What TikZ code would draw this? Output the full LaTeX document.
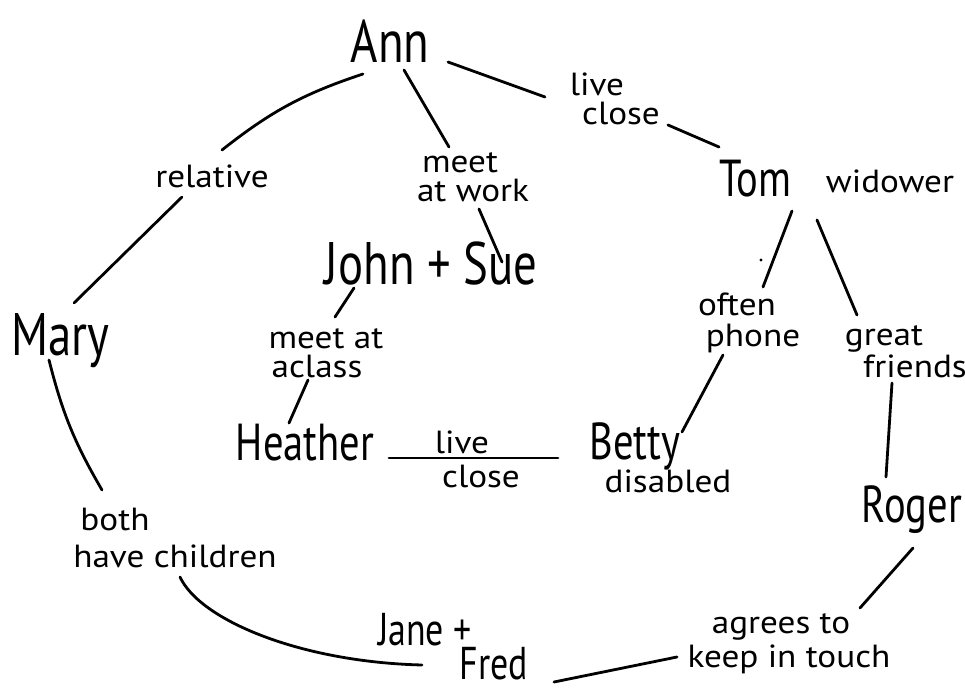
\documentclass[tikz,border=0pt]{standalone}
\usepackage{fontspec}
\setmainfont{PT Sans}
\newfontfamily\namefont[FakeStretch=0.78]{PT Sans}
\newfontfamily\labfont[FakeStretch=1.1]{PT Sans}
\usetikzlibrary{calc}
\begin{document}
\begin{tikzpicture}[x=0.5pt,y=-0.5pt,
  conn/.style={line width=1.4pt,line cap=round},
  bigname/.style={anchor=base,inner sep=0pt,font=\namefont\fontsize{30}{32}\selectfont},
  midname/.style={anchor=base,inner sep=0pt,font=\namefont\fontsize{26}{28}\selectfont},
  smallname/.style={anchor=base,inner sep=0pt,font=\namefont\fontsize{23}{25}\selectfont},
  lab/.style={anchor=base,inner sep=0pt,font=\labfont\fontsize{16}{18}\selectfont}]
\useasboundingbox (0,0) rectangle (965,690);
\fill[white] (0,0) rectangle (965,690);
% names
\node[bigname] (ann) at (390,63) {Ann};
\node[bigname] (mary) at (60,355) {Mary};
\node[bigname] (johnsue) at (431,285) {John + Sue};
\node[midname] (tom) at (755,197) {Tom};
\node[midname] (heather) at (305,460) {Heather};
\node[midname] (betty) at (635,459) {Betty};
\node[midname] (roger) at (912,522) {Roger};
\node[smallname] (jane) at (425,645) {Jane +};
\node[smallname] (fred) at (494,679) {Fred};
% labels
\node[lab] (relative) at (212,188) {relative};
\node[lab] (live) at (597,96) {live};
\node[lab] (close) at (621,125) {close};
\node[lab] (widower) at (890,193) {widower};
\node[lab] (meet) at (460,173) {meet};
\node[lab] (atwork) at (473,202) {at work};
\node[lab] (meetat) at (326,348) {meet at};
\node[lab] (aclass) at (317,377) {aclass};
\node[lab] (often) at (737,315) {often};
\node[lab] (phone) at (753,346) {phone};
\node[lab] (great) at (884,345) {great};
\node[lab] (friends) at (915,377) {friends};
\node[lab] (liveb) at (462,453) {live};
\node[lab] (closeb) at (481,487) {close};
\node[lab] (disabled) at (668,492) {disabled};
\node[lab] (both) at (115,530) {both};
\node[lab] (children) at (175,567) {have children};
\node[lab] (agrees) at (781,633) {agrees to};
\node[lab] (keep) at (789,667) {keep in touch};
% connectors
\draw[conn] ($(ann.base)+(-27,11)$) to[bend right=10] ($(relative.base)+(10,-38)$);
\draw[conn] ($(relative.base)+(-30,9)$) -- ($(mary.base)+(14,-52)$);
\draw[conn] ($(ann.base)+(14,7)$) -- ($(meet.base)+(-11,-26)$);
\draw[conn] ($(atwork.base)+(6,7)$) -- ($(johnsue.base)+(71,-23)$);
\draw[conn] ($(ann.base)+(58,-1)$) -- ($(live.base)+(-52,1)$);
\draw[conn] ($(close.base)+(47,0)$) -- ($(tom.base)+(-36,-50)$);
\draw[conn] ($(tom.base)+(37,14)$) -- ($(often.base)+(26,-28)$);
\draw[conn] ($(tom.base)+(62,23)$) -- ($(great.base)+(-27,-30)$);
\draw[conn] ($(johnsue.base)+(-77,3)$) -- ($(meetat.base)+(9,-31)$);
\draw[conn] ($(aclass.base)+(-9,3)$) -- ($(heather.base)+(-16,-37)$);
\draw[conn] ($(phone.base)+(-30,9)$) -- ($(betty.base)+(47,-27)$);
\draw[conn] ($(friends.base)+(-23,6)$) -- ($(roger.base)+(-26,-45)$);
\draw[conn] ($(heather.base)+(84,-2)$) -- ($(betty.base)+(-77,-1)$);
\draw[conn] ($(mary.base)+(-11,5)$) to[bend right=8] ($(both.base)+(-13,-40)$);
\draw[conn] ($(roger.base)+(1,26)$) -- ($(agrees.base)+(79,-25)$);
\draw[conn] ($(children.base)+(5,10)$) .. controls (200,620) and (300,662) .. ($(jane.base)+(-3,20)$);
\draw[conn] ($(fred.base)+(60,3)$) -- ($(keep.base)+(-112,-10)$);
\fill (761,260) circle (1.6);
\end{tikzpicture}
\end{document}
